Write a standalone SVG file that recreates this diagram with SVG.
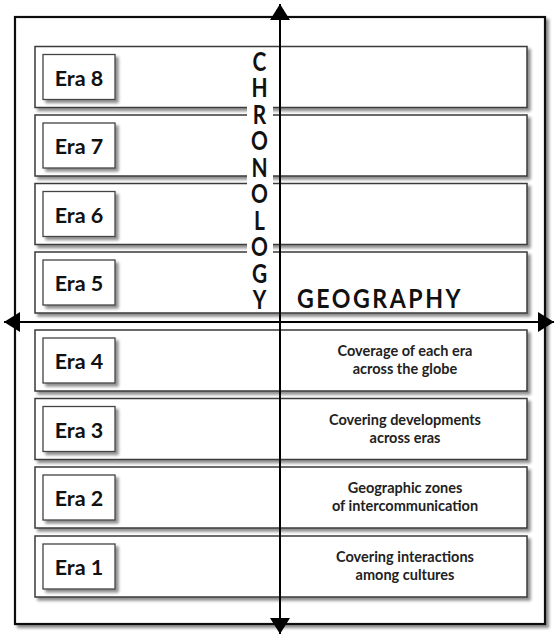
<svg xmlns="http://www.w3.org/2000/svg" width="555" height="634" viewBox="0 0 555 634">
<defs>
<filter id="sh" x="-10%" y="-10%" width="130%" height="140%">
<feGaussianBlur in="SourceAlpha" stdDeviation="1.6"/>
<feOffset dx="2.5" dy="2.5"/>
<feComponentTransfer><feFuncA type="linear" slope="0.45"/></feComponentTransfer>
<feMerge><feMergeNode/><feMergeNode in="SourceGraphic"/></feMerge>
</filter>
<marker id="ah" viewBox="0 0 16 20" refX="16" refY="10" markerWidth="16" markerHeight="20" markerUnits="userSpaceOnUse" orient="auto-start-reverse">
<path d="M0,0 L16,10 L0,20 Z" fill="#000"/>
</marker>
</defs>
<style>
.frame{fill:#fff;stroke:#111;stroke-width:2.2}
.row{fill:#fff;stroke:#3a3a3a;stroke-width:1.5}
.era{fill:#fff;stroke:#444;stroke-width:1.3}
.eraT{font-family:Lato,"Liberation Sans",sans-serif;font-weight:bold;font-size:21.5px;fill:#111;text-anchor:middle}
.desc{font-family:Lato,"Liberation Sans",sans-serif;font-weight:bold;font-size:14.5px;fill:#222;text-anchor:middle}
.axisT{font-family:Lato,"Liberation Sans",sans-serif;font-weight:bold;font-size:27.5px;fill:#111}
.vert{writing-mode:vertical-rl;text-orientation:upright}
.axis{stroke:#000;stroke-width:2;fill:none}
</style>
<rect class="frame" x="15" y="17" width="530" height="607" filter="url(#sh)"/>
<g id="era8"><rect class="row" x="35" y="46.5" width="492" height="61" filter="url(#sh)"/><rect class="era" x="43" y="54.5" width="72" height="45" filter="url(#sh)"/><text class="eraT" x="79" y="85.5">Era 8</text></g>
<g id="era7"><rect class="row" x="35" y="115" width="492" height="61" filter="url(#sh)"/><rect class="era" x="43" y="123" width="72" height="45" filter="url(#sh)"/><text class="eraT" x="79" y="154">Era 7</text></g>
<g id="era6"><rect class="row" x="35" y="183.5" width="492" height="61" filter="url(#sh)"/><rect class="era" x="43" y="191.5" width="72" height="45" filter="url(#sh)"/><text class="eraT" x="79" y="222.5">Era 6</text></g>
<g id="era5"><rect class="row" x="35" y="252" width="492" height="61" filter="url(#sh)"/><rect class="era" x="43" y="260" width="72" height="45" filter="url(#sh)"/><text class="eraT" x="79" y="291">Era 5</text></g>
<g id="era4"><rect class="row" x="35" y="330" width="492" height="61" filter="url(#sh)"/><rect class="era" x="43" y="338" width="72" height="45" filter="url(#sh)"/><text class="eraT" x="79" y="369">Era 4</text><text class="desc" x="405" y="356">Coverage of each era</text><text class="desc" x="405" y="374">across the globe</text></g>
<g id="era3"><rect class="row" x="35" y="398.5" width="492" height="61" filter="url(#sh)"/><rect class="era" x="43" y="406.5" width="72" height="45" filter="url(#sh)"/><text class="eraT" x="79" y="437.5">Era 3</text><text class="desc" x="405" y="424.5">Covering developments</text><text class="desc" x="405" y="442.5">across eras</text></g>
<g id="era2"><rect class="row" x="35" y="467" width="492" height="61" filter="url(#sh)"/><rect class="era" x="43" y="475" width="72" height="45" filter="url(#sh)"/><text class="eraT" x="79" y="506">Era 2</text><text class="desc" x="405" y="493">Geographic zones</text><text class="desc" x="405" y="511">of intercommunication</text></g>
<g id="era1"><rect class="row" x="35" y="536" width="492" height="61" filter="url(#sh)"/><rect class="era" x="43" y="544" width="72" height="45" filter="url(#sh)"/><text class="eraT" x="79" y="575">Era 1</text><text class="desc" x="405" y="562">Covering interactions</text><text class="desc" x="405" y="580">among cultures</text></g>
<g id="chronology">
<rect x="247" y="49" width="26" height="262" fill="#fff"/>
<g transform="translate(259.5,0) scale(0.76,1)">
<text class="axisT vert" x="0" y="44" letter-spacing="-6.2">CHRONOLOGY</text>
</g>
</g>
<g id="geography"><text class="axisT" x="297" y="308" textLength="166" lengthAdjust="spacingAndGlyphs" letter-spacing="3">GEOGRAPHY</text></g>
<g id="connectors">
<line class="axis" x1="280" y1="622" x2="280" y2="4" marker-end="url(#ah)"/>
<line class="axis" x1="280" y1="18" x2="280" y2="634" marker-end="url(#ah)"/>
<line class="axis" x1="280" y1="322" x2="4" y2="322" marker-end="url(#ah)"/>
<line class="axis" x1="280" y1="322" x2="554" y2="322" marker-end="url(#ah)"/>
</g>
</svg>
